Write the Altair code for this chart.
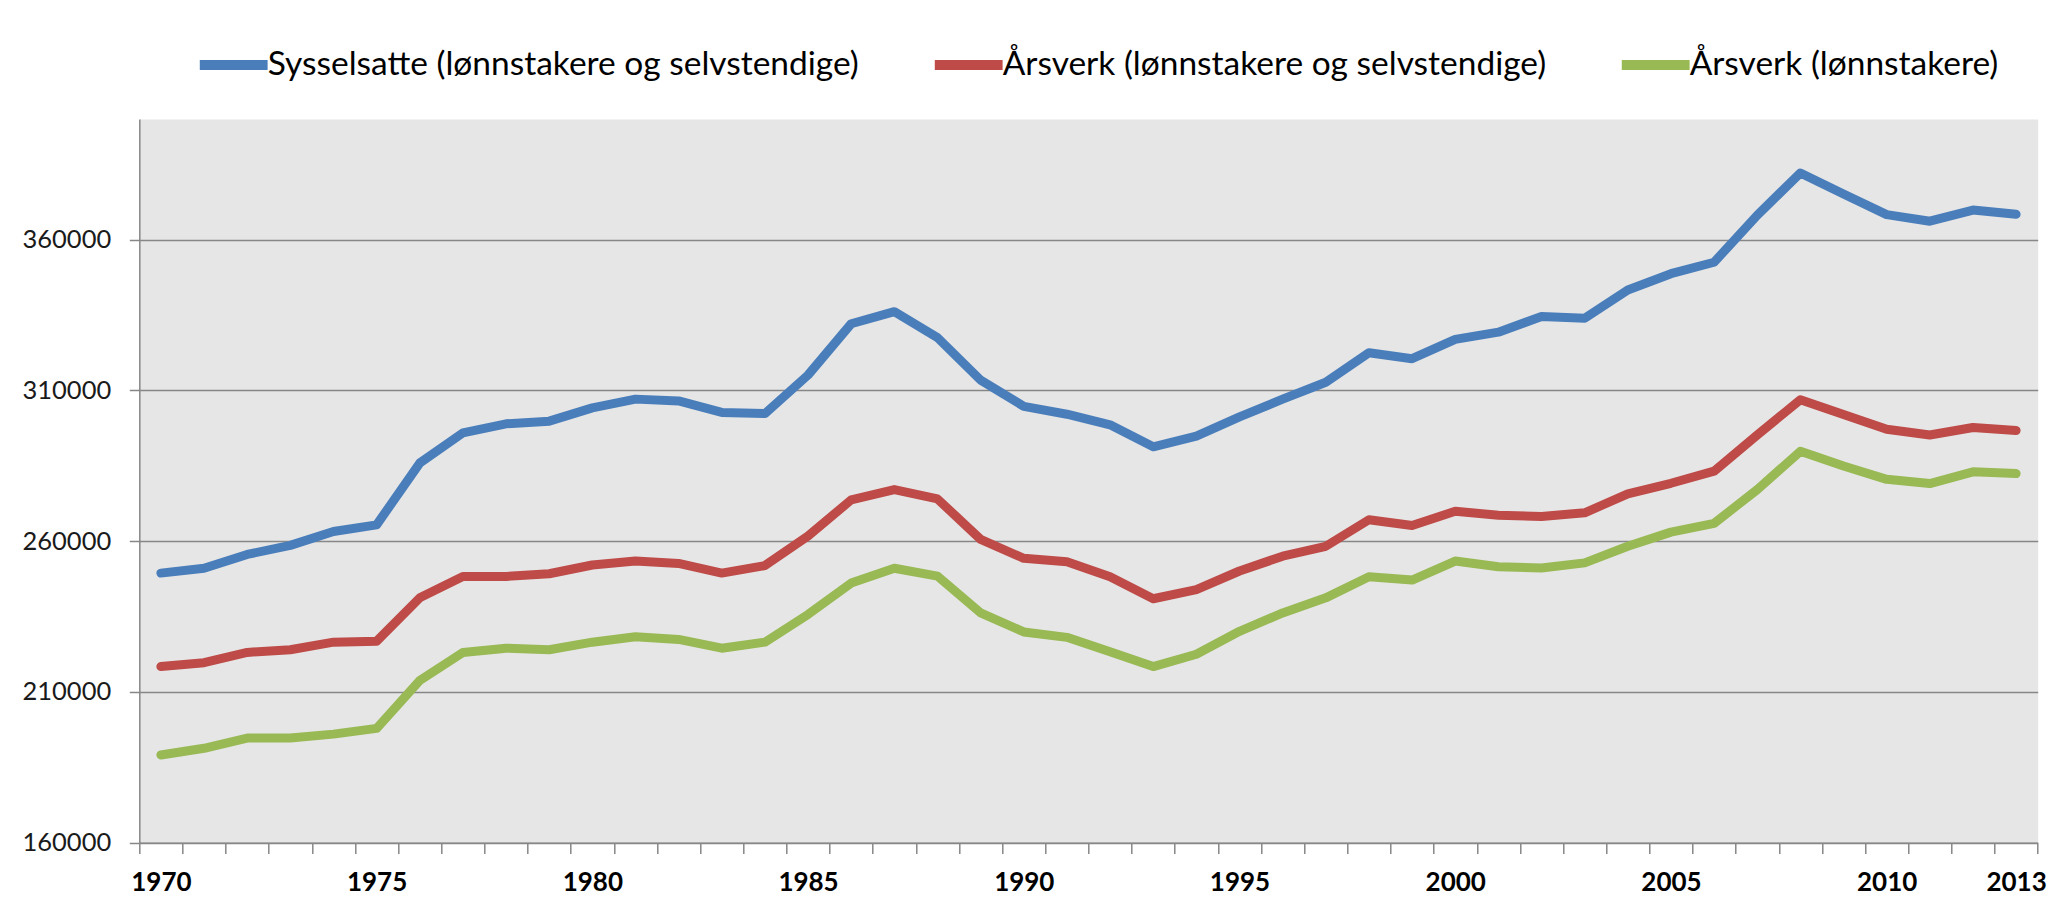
import altair as alt
import pandas as pd

years = list(range(1970, 2014))

sysselsatte = [249400, 251000, 255600, 258600, 263200, 265400, 285900, 295900, 298900, 299800,
               304200, 307100, 306500, 302700, 302300, 315100, 332100, 336100, 327500, 313400,
               304700, 302100, 298600, 291300, 294800, 301200, 307100, 312700, 322500, 320500,
               326900, 329300, 334500, 333900, 343300, 348700, 352500, 368100, 382100, 375100,
               368300, 366100, 369800, 368400]

arsverk_alle = [218400, 219700, 223100, 224000, 226500, 226800, 241200, 248300, 248300, 249200,
                252100, 253400, 252600, 249400, 251900, 261700, 273700, 277100, 274000, 260600,
                254300, 253200, 248200, 240900, 243900, 250100, 255000, 258300, 267100, 265200,
                269900, 268600, 268200, 269400, 275700, 279200, 283200, 295200, 306900, 302000,
                297100, 295200, 297700, 296700]

arsverk_lonn = [189100, 191300, 194700, 194700, 196000, 197900, 213800, 223100, 224500, 224000,
                226500, 228300, 227400, 224500, 226500, 235700, 246100, 251000, 248400, 236200,
                229900, 228100, 223300, 218400, 222500, 230100, 236200, 241200, 248200, 247100,
                253400, 251500, 251100, 252800, 258300, 263000, 265900, 277100, 289800, 284900,
                280500, 279100, 283000, 282400]

series_names = ["Sysselsatte (lønnstakere og selvstendige)",
                "Årsverk (lønnstakere og selvstendige)",
                "Årsverk (lønnstakere)"]
series_colors = ["#4a7ebb", "#be4b48", "#98b954"]

y_ticks = [160000, 210000, 260000, 310000, 360000]
x_labels = [1970, 1975, 1980, 1985, 1990, 1995, 2000, 2005, 2010, 2013]

rows = []
for name, vals in zip(series_names, [sysselsatte, arsverk_alle, arsverk_lonn]):
    for yr, v in zip(years, vals):
        rows.append({"year": yr, "value": v, "series": name})
df = pd.DataFrame(rows)

FONT = "Lato"
GRAY = "#878787"

xscale = alt.Scale(domain=[years[0] - 0.5, years[-1] + 0.5], nice=False, zero=False)
boundaries = [years[0] - 0.5 + i for i in range(len(years) + 1)]

lines = alt.Chart(df).mark_line(strokeWidth=9, strokeCap="round", strokeJoin="round").encode(
    x=alt.X("year:Q", scale=xscale,
            axis=alt.Axis(values=boundaries, labels=False, grid=False, ticks=True, tickSize=10.7,
                          orient="bottom", title=None, domain=True)),
    y=alt.Y("value:Q", scale=alt.Scale(domain=[160000, 400000], nice=False, zero=False),
            axis=alt.Axis(values=y_ticks, format="d", grid=True, title=None, tickSize=10,
                          labelPadding=18.6, labelFontSize=25.5, labelFont=FONT,
                          labelColor="#1a1a1a")),
    color=alt.Color("series:N", scale=alt.Scale(domain=series_names, range=series_colors),
                    legend=alt.Legend(orient="none", legendX=55.4, legendY=-93,
                                      direction="horizontal", title=None, symbolType="stroke",
                                      symbolSize=4600, symbolStrokeWidth=10, labelFont=FONT,
                                      labelFontSize=33.5, labelLimit=1000,
                                      labelOffset={"expr": "-5"},
                                      columnPadding=55, padding=0, labelColor="black")),
)

label_layer = alt.Chart(pd.DataFrame({"year": x_labels})).mark_point(opacity=0).encode(
    x=alt.X("year:Q", scale=xscale,
            axis=alt.Axis(values=x_labels, format="d", ticks=False, tickSize=0, domain=False,
                          grid=False, labelFontWeight="bold", labelFontSize=26, labelPadding=27,
                          orient="bottom", title=None, labelFont=FONT, labelColor="black",
                          labelOverlap=False, labelFlush=False)),
    y=alt.value(0),
)

chart = alt.layer(lines, label_layer).resolve_axis(x="independent").properties(
    width=1898.4, height=723.7,
    autosize=alt.AutoSizeParams(type="none"),
    padding={"left": 131.3, "top": 111, "right": 12, "bottom": 58},
).configure_view(
    fill="#e6e6e6", stroke="transparent"
).configure_axis(
    domainColor=GRAY, tickColor=GRAY, gridColor=GRAY, domainWidth=1.5, tickWidth=1.5, gridWidth=1.5
)

chart.save("out.html", embed_options={"renderer": "svg", "actions": False})
